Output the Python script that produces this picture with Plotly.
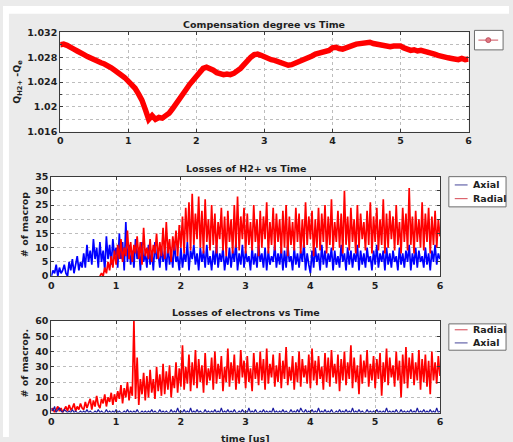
import numpy as np
import plotly.graph_objects as go

# ---------------- data ----------------
comp_degree = [
    1.0300, 1.0301, 1.0299, 1.0297, 1.0293, 1.0290, 1.0286, 1.0284, 1.0281, 1.0278,
    1.0275, 1.0273, 1.0271, 1.0269, 1.0267, 1.0263, 1.0259, 1.0256, 1.0251, 1.0247,
    1.0242, 1.0237, 1.0230, 1.0221, 1.0211, 1.0196, 1.0180, 1.0186, 1.0180, 1.0183,
    1.0182, 1.0186, 1.0190, 1.0197, 1.0204, 1.0212, 1.0220, 1.0228, 1.0236, 1.0243,
    1.0250, 1.0257, 1.0262, 1.0264, 1.0262, 1.0259, 1.0255, 1.0253, 1.0252, 1.0253,
    1.0252, 1.0254, 1.0257, 1.0262, 1.0268, 1.0275, 1.0280, 1.0284, 1.0285, 1.0283,
    1.0280, 1.0278, 1.0276, 1.0275, 1.0273, 1.0271, 1.0269, 1.0267, 1.0268, 1.0270,
    1.0272, 1.0274, 1.0277, 1.0280, 1.0282, 1.0285, 1.0286, 1.0288, 1.0289, 1.0291,
    1.0295, 1.0296, 1.0294, 1.0293, 1.0295, 1.0298, 1.0299, 1.0301, 1.0302, 1.0304,
    1.0305, 1.0304, 1.0302, 1.0301, 1.0299, 1.0297, 1.0296, 1.0297, 1.0298, 1.0299,
    1.0298, 1.0295, 1.0292, 1.0291, 1.0292, 1.0290, 1.0291, 1.0290, 1.0288, 1.0286,
    1.0285, 1.0283, 1.0281, 1.0280, 1.0279, 1.0278, 1.0277, 1.0276, 1.0278, 1.0276,
    1.0277,
]

h2_axial = [
    0, 2, 1, 4, 0, 3, 1, 2, 4, 1,
    0, 5, 2, 6, 1, 4, 7, 2, 5, 3,
    8, 3, 11, 5, 9, 4, 13, 6, 10, 3,
    12, 5, 9, 2, 14, 6, 11, 4, 13, 7,
    10, 3, 15, 6, 12, 2, 19, 5, 11, 4,
    9, 3, 13, 6, 10, 2, 12, 5, 8, 3,
    11, 4, 9, 2, 12, 6, 8, 3, 10, 5,
    9, 2, 11, 4, 8, 3, 12, 5, 7, 2,
    10, 3, 8, 5, 12, 2, 9, 6, 11, 4,
    8, 2, 10, 5, 9, 3, 11, 4, 7, 2,
    9, 4, 11, 3, 8, 5, 10, 2, 7, 4,
    10, 3, 9, 5, 12, 2, 8, 4, 11, 3,
    9, 5, 7, 2, 10, 4, 8, 3, 11, 5,
    8, 3, 10, 2, 9, 4, 7, 5, 11, 3,
    8, 4, 10, 2, 9, 3, 11, 5, 7, 2,
    10, 4, 8, 3, 9, 5, 12, 2, 8, 4,
    1, 9, 3, 10, 5, 8, 2, 11, 4, 9,
    3, 8, 5, 10, 2, 9, 4, 7, 3, 11,
    5, 8, 2, 10, 4, 9, 3, 8, 5, 11,
    2, 9, 4, 8, 3, 10, 5, 7, 2, 9,
    4, 11, 3, 8, 5, 9, 2, 10, 4, 8,
    3, 9, 5, 7, 2, 10, 4, 8, 3, 9,
    5, 11, 2, 8, 4, 10, 3, 9, 5, 7,
    3, 10, 4, 8, 2, 9, 5, 11, 4, 8, 6,
]

h2_radial = [  # starts at t = 0.75 us
    0, 1, 0, 3, 1, 5, 2, 7, 3, 9,
    4, 11, 6, 13, 5, 10, 7, 16, 6, 12,
    5, 11, 8, 14, 6, 12, 4, 17, 7, 10,
    6, 13, 5, 11, 8, 15, 6, 12, 7, 17,
    6, 19, 8, 13, 5, 14, 9, 16, 7, 18,
    10, 21, 8, 24, 12, 26, 9, 29, 11, 22,
    13, 28, 10, 23, 8, 27, 12, 20, 9, 25,
    11, 22, 8, 19, 13, 24, 9, 21, 7, 23,
    12, 20, 8, 25, 10, 28, 9, 21, 13, 24,
    8, 22, 11, 19, 9, 25, 12, 20, 7, 23,
    10, 21, 13, 26, 8, 19, 11, 24, 9, 22,
    12, 20, 8, 23, 10, 25, 7, 21, 11, 19,
    9, 24, 12, 22, 8, 20, 10, 26, 11, 21,
    13, 23, 7, 20, 10, 24, 9, 22, 12, 25,
    8, 21, 11, 27, 9, 19, 12, 23, 10, 22,
    8, 30, 11, 21, 9, 24, 12, 20, 8, 25,
    10, 22, 13, 19, 9, 23, 11, 26, 8, 21,
    12, 24, 9, 20, 11, 27, 8, 22, 10, 23,
    13, 21, 9, 25, 11, 19, 8, 24, 12, 22,
    9, 31, 11, 21, 8, 23, 12, 20, 10, 26,
    9, 22, 12, 24, 8, 21, 11, 23, 10, 20, 14,
]

e_radial = [
    1, 3, 0, 2, 4, 1, 3, 0, 2, 4,
    1, 5, 2, 3, 6, 1, 4, 2, 6, 3,
    2, 7, 3, 6, 9, 2, 8, 4, 11, 5,
    3, 9, 6, 12, 4, 10, 7, 13, 5, 12,
    7, 14, 9, 18, 6, 16, 10, 20, 8, 17,
    11, 60, 9, 36, 5, 22, 12, 26, 8, 24,
    10, 28, 13, 22, 9, 30, 14, 25, 11, 32,
    12, 27, 15, 31, 10, 24, 16, 33, 13, 29,
    17, 44, 15, 30, 19, 38, 14, 33, 18, 41,
    16, 35, 20, 31, 13, 39, 18, 29, 21, 36,
    15, 40, 19, 32, 22, 37, 14, 30, 20, 42,
    17, 33, 21, 38, 15, 31, 19, 41, 23, 34,
    16, 37, 20, 29, 14, 39, 22, 33, 18, 40,
    21, 35, 15, 42, 19, 32, 23, 38, 17, 31,
    20, 39, 16, 34, 22, 43, 18, 30, 21, 37,
    15, 33, 20, 40, 17, 35, 23, 31, 19, 38,
    16, 42, 21, 34, 18, 37, 22, 30, 15, 39,
    20, 36, 17, 41, 23, 32, 19, 38, 14, 35,
    21, 40, 18, 33, 22, 44, 16, 36, 20, 31,
    12, 38, 19, 34, 23, 41, 17, 32, 21, 37,
    16, 35, 22, 39, 11, 33, 20, 42, 18, 36,
    23, 31, 17, 40, 21, 34, 10, 38, 19, 43,
    16, 36, 22, 39, 18, 33, 21, 41, 15, 35,
    20, 38, 17, 34, 12, 40, 21, 33, 19, 37, 24,
]

e_axial = [
    3, 1, 4, 0, 2, 3, 1, 0, 2, 1,
    0, 1, 0, 2, 0, 1, 0, 0, 1, 0,
    1, 0, 2, 0, 1, 0, 0, 1, 0, 2,
    0, 1, 0, 0, 2, 0, 1, 0, 1, 0,
    2, 0, 1, 0, 0, 1, 0, 2, 0, 1,
    0, 1, 0, 2, 0, 0, 1, 0, 1, 0,
    1, 0, 2, 0, 1, 0, 0, 2, 0, 1,
    0, 1, 0, 0, 2, 0, 1, 0, 3, 0,
    1, 0, 2, 0, 1, 0, 3, 0, 1, 0,
    2, 0, 1, 0, 0, 2, 0, 1, 0, 1,
    0, 2, 0, 1, 0, 3, 0, 1, 0, 2,
    0, 1, 0, 2, 0, 0, 1, 0, 2, 0,
    1, 0, 3, 0, 1, 0, 2, 0, 0, 1,
    0, 2, 0, 1, 0, 1, 0, 3, 0, 1,
    0, 1, 0, 2, 0, 1, 0, 0, 2, 0,
    1, 0, 2, 0, 3, 1, 0, 2, 0, 1,
    0, 2, 0, 1, 0, 3, 0, 1, 0, 2,
    0, 1, 0, 2, 0, 0, 1, 0, 2, 0,
    1, 0, 2, 0, 1, 0, 3, 0, 1, 0,
    2, 0, 1, 0, 0, 2, 0, 1, 0, 1,
    0, 2, 0, 1, 0, 1, 0, 3, 0, 1,
    0, 1, 0, 2, 0, 0, 2, 0, 1, 0,
    1, 0, 2, 0, 1, 0, 3, 0, 1, 0,
    2, 0, 1, 0, 2, 0, 1, 0, 3, 0, 1,
]

T_END = 6.0
H2_RADIAL_START = 0.75
x_ticks = [0, 1, 2, 3, 4, 5, 6]
comp_ticks = [1.016, 1.020, 1.024, 1.028, 1.032]
comp_ticktext = ["1.016", "1.02", "1.024", "1.028", "1.032"]
h2_ticks = [0, 5, 10, 15, 20, 25, 30, 35]
e_ticks = [0, 10, 20, 30, 40, 50, 60]

t_comp = np.linspace(0, T_END, len(comp_degree))
t_h2a = np.linspace(0, T_END, len(h2_axial))
t_h2r = np.linspace(H2_RADIAL_START, T_END, len(h2_radial))
t_er = np.linspace(0, T_END, len(e_radial))
t_ea = np.linspace(0, T_END, len(e_axial))

# ---------------- layout helpers ----------------
# Body margin is removed by post_script; coordinates below are page pixels.
W, H = 513, 442
def px(x):
    return x / W
def py(y):
    return 1 - y / H

FONT = "DejaVu Sans"
TXT = "#1e1e1e"
AXC = "#3a3a3a"
RED = "#ff0000"
BLUE = "#0000ff"
GRID = "#bdbdbd"
NOISE_W = 1.7

def axis(**kw):
    d = dict(showline=True, linecolor=AXC, linewidth=1, mirror="ticks",
             ticks="inside", ticklen=3, tickcolor=AXC,
             showgrid=True, gridcolor=GRID, griddash="dot", gridwidth=1,
             zeroline=False, fixedrange=True,
             tickfont=dict(family=FONT, size=9.5, color=TXT, weight="bold"))
    d.update(kw)
    return d

fig = go.Figure()

fig.add_trace(go.Scatter(x=t_comp, y=comp_degree, mode="lines",
                         line=dict(color=RED, width=5.5), xaxis="x", yaxis="y",
                         showlegend=False))
fig.add_trace(go.Scatter(x=t_h2a, y=h2_axial, mode="lines", name="Axial",
                         line=dict(color=BLUE, width=NOISE_W),
                         xaxis="x2", yaxis="y2", showlegend=False))
fig.add_trace(go.Scatter(x=t_h2r, y=h2_radial, mode="lines", name="Radial",
                         line=dict(color=RED, width=NOISE_W),
                         xaxis="x2", yaxis="y2", showlegend=False))
fig.add_trace(go.Scatter(x=t_er, y=e_radial, mode="lines", name="Radial",
                         line=dict(color=RED, width=NOISE_W),
                         xaxis="x3", yaxis="y3", showlegend=False))
fig.add_trace(go.Scatter(x=t_ea, y=e_axial, mode="lines", name="Axial",
                         line=dict(color="#1a1aa0", width=1.2),
                         xaxis="x3", yaxis="y3", showlegend=False))

P1 = (58, 472, 27, 129)
P2 = (49, 443, 175, 277)
P3 = (49, 443, 323, 417)

def dom(p):
    return [px(p[0]), px(p[1])], [py(p[3]), py(p[2])]

d1x, d1y = dom(P1)
d2x, d2y = dom(P2)
d3x, d3y = dom(P3)

minor1 = dict(dtick=0.002, tick0=1.016, showgrid=True, gridcolor=GRID,
              griddash="dot", ticks="inside", ticklen=2, tickcolor=AXC)

fig.update_layout(
    width=W, height=H, autosize=False,
    margin=dict(l=0, r=0, t=0, b=0),
    paper_bgcolor="#ebebeb", plot_bgcolor="white",
    showlegend=False,
    xaxis=axis(domain=d1x, anchor="y", range=[0, 6], tickvals=x_ticks),
    yaxis=axis(domain=d1y, anchor="x", range=[1.016, 1.032],
               tickvals=comp_ticks, ticktext=comp_ticktext, minor=minor1),
    xaxis2=axis(domain=d2x, anchor="y2", range=[0, 6], tickvals=x_ticks),
    yaxis2=axis(domain=d2y, anchor="x2", range=[0, 35], tickvals=h2_ticks),
    xaxis3=axis(domain=d3x, anchor="y3", range=[0, 6], tickvals=x_ticks),
    yaxis3=axis(domain=d3y, anchor="x3", range=[0, 60], tickvals=e_ticks),
)

ann = []
def text(x, y, s, size=9.5, angle=0, xanchor="center", yanchor="middle"):
    ann.append(dict(x=px(x), y=py(y), xref="paper", yref="paper", text=s,
                    showarrow=False, textangle=angle, xanchor=xanchor,
                    yanchor=yanchor,
                    font=dict(family=FONT, size=size, color=TXT, weight="bold")))

text(265, 19, "Compensation degree vs Time")
text(246, 167, "Losses of H2+ vs Time")
text(246, 314, "Losses of electrons vs Time")
text(14, 78, "Q<sub>H2+</sub> -Q<sub>e</sub>", angle=-90)
text(22, 224, "# of macrop", angle=-90)
text(22, 366, "# of macrop.", angle=-90)
text(246, 436, "time [us]", yanchor="top")
# legend labels
text(474, 183.5, "Axial", xanchor="left")
text(474, 197.5, "Radial", xanchor="left")
text(474, 332, "Radial", xanchor="left")
text(474, 345.5, "Axial", xanchor="left")

shapes = []
def rect(x0, y0, x1, y1, fill, line=None):
    shapes.append(dict(type="rect", xref="paper", yref="paper",
                       x0=px(x0), x1=px(x1), y0=py(y1), y1=py(y0),
                       fillcolor=fill,
                       line=dict(color=line or fill, width=1 if line else 0)))
def seg(x0, x1, y, color, width=1.2):
    shapes.append(dict(type="line", xref="paper", yref="paper",
                       x0=px(x0), x1=px(x1), y0=py(y), y1=py(y),
                       line=dict(color=color, width=width)))

# white strips at the top and left of the screenshot
rect(0, 0, 6, 442, "white")
rect(0, 0, 513, 8, "white")
# legend boxes
LEGC = "#6e6e6e"
rect(478, 25, 507, 45, "white", LEGC)
seg(482, 502, 35, "rgb(215,110,120)", 1.2)
shapes.append(dict(type="circle", xref="paper", yref="paper",
                   x0=px(489.5), x1=px(494.5), y0=py(37.5), y1=py(32.5),
                   fillcolor="rgb(225,120,130)", line=dict(color="rgb(190,80,95)", width=1)))
rect(452, 175, 510, 206, "white", LEGC)
seg(458, 471, 183.5, "rgb(100,100,170)")
seg(458, 471, 197.5, "rgb(220,100,110)")
rect(452, 326, 510, 353, "white", LEGC)
seg(458, 471, 332, "rgb(220,100,110)")
seg(458, 471, 345.5, "rgb(100,100,170)")

fig.update_layout(annotations=ann, shapes=shapes)

fig.write_html(
    "out.html",
    config={"displayModeBar": False},
    post_script="document.body.style.margin='0';"
                "document.documentElement.style.overflow='hidden';"
                "document.body.style.overflow='hidden';",
)
